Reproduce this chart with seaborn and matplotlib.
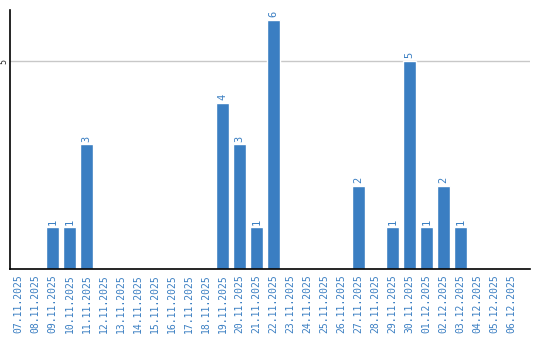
import matplotlib
matplotlib.use("Agg")
import matplotlib.pyplot as plt
import seaborn as sns
import pandas as pd

dates = ["07.11.2025", "08.11.2025", "09.11.2025", "10.11.2025", "11.11.2025",
         "12.11.2025", "13.11.2025", "14.11.2025", "15.11.2025", "16.11.2025",
         "17.11.2025", "18.11.2025", "19.11.2025", "20.11.2025", "21.11.2025",
         "22.11.2025", "23.11.2025", "24.11.2025", "25.11.2025", "26.11.2025",
         "27.11.2025", "28.11.2025", "29.11.2025", "30.11.2025", "01.12.2025",
         "02.12.2025", "03.12.2025", "04.12.2025", "05.12.2025", "06.12.2025"]
counts = [0, 0, 1, 1, 3, 0, 0, 0, 0, 0, 0, 0, 4, 3, 1, 6, 0, 0, 0, 0,
          2, 0, 1, 5, 1, 2, 1, 0, 0, 0]

df = pd.DataFrame({"date": dates, "count": counts})
blue = "#3a7ec2"

sns.set_style("white")
fig = plt.figure(figsize=(5.4, 3.4), dpi=100)
ax = fig.add_axes([10/540, 71/340, 520/540, 259/340])
sns.barplot(data=df, x="date", y="count", color=blue, saturation=1, width=0.82, ax=ax)
ax.set_ylim(0, 6.23)
ax.set_xlim(-0.5, len(dates) - 0.5 + 10/17)
ax.set_yticks([5])
ax.yaxis.grid(True, color="#c8c8c8", linewidth=1)
ax.set_axisbelow(True)
for s in ["top", "right"]:
    ax.spines[s].set_visible(False)
for s in ["left", "bottom"]:
    ax.spines[s].set_color("black")
    ax.spines[s].set_linewidth(1.2)
ax.set_xlabel("")
ax.set_ylabel("")
ax.tick_params(axis="both", length=0)
ax.tick_params(axis="x", pad=4)
ax.tick_params(axis="y", pad=1)
for lab in ax.get_xticklabels():
    lab.set_rotation(90)
    lab.set_color(blue)
    lab.set_fontfamily("DejaVu Sans Mono")
    lab.set_fontsize(7)
for lab in ax.get_yticklabels():
    lab.set_rotation(90)
    lab.set_fontfamily("DejaVu Sans Mono")
    lab.set_fontsize(6)
    lab.set_va("center")
for i, v in enumerate(counts):
    if v > 0:
        ax.annotate(str(v), (i, v), xytext=(0, 2), textcoords="offset points",
                    rotation=90, ha="center", va="bottom", color=blue,
                    fontsize=7.5, fontfamily="DejaVu Sans Mono")
fig.savefig("out.png", dpi=100)
